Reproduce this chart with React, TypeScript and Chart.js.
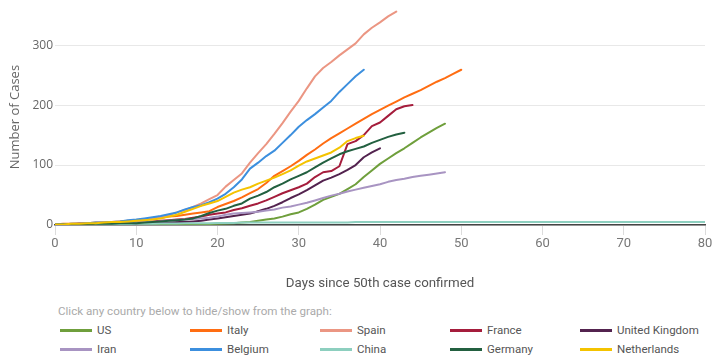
import React, { useEffect, useRef } from 'react';
import { Chart, registerables } from 'chart.js';

Chart.register(...registerables);

const NARROW = "Roboto, 'Open Sans', sans-serif";
const OPEN = "'Open Sans', sans-serif";

const X_TICKS = [0, 10, 20, 30, 40, 50, 60, 70, 80];
const Y_TICKS = [0, 100, 200, 300];
const X_TITLE = 'Days since 50th case confirmed';
const Y_TITLE = 'Number of Cases';
const LEGEND_HINT = 'Click any country below to hide/show from the graph:';

const COUNTRIES = ['US', 'Italy', 'Spain', 'France', 'United Kingdom', 'Iran', 'Belgium', 'China', 'Germany', 'Netherlands'];
const COLORS = ['#6f9f3c', '#ff6d12', '#eb9683', '#a51d3c', '#53234f', '#a894c2', '#3c8fde', '#8dcfbf', '#236040', '#f4c300'];

const US = [0.3, 0.3, 0.4, 0.4, 0.5, 0.5, 0.6, 0.6, 0.7, 0.7, 0.8, 0.8, 0.9, 1, 1, 1.1, 1.2, 1.3, 1.5, 1.7, 2, 2.3, 3, 4, 5, 7, 9, 11, 14, 18, 21, 27, 34, 42, 47, 52, 60, 68, 80, 91, 102, 111, 120, 128, 137, 146, 154, 162, 169];
const ITALY = [1, 2, 2, 3, 3, 4, 4, 5, 6, 7, 8, 9, 11, 12, 14, 15, 17, 19, 21, 23, 30, 35, 40, 46, 53, 60, 70, 82, 90, 98, 107, 117, 126, 136, 145, 153, 161, 169, 177, 185, 192, 199, 206, 213, 219, 225, 232, 239, 245, 252, 259];
const SPAIN = [1, 1, 2, 2, 3, 3, 4, 4, 5, 6, 8, 9, 11, 13, 16, 21, 25, 30, 36, 43, 50, 64, 75, 86, 104, 120, 135, 152, 170, 189, 207, 228, 248, 262, 272, 283, 293, 303, 318, 329, 338, 348, 356];
const FRANCE = [1, 1, 1, 2, 2, 2, 3, 3, 3, 4, 4, 5, 6, 7, 8, 9, 10, 12, 14, 17, 19, 21, 25, 28, 32, 36, 41, 47, 53, 58, 63, 69, 80, 88, 90, 98, 135, 140, 150, 165, 171, 182, 193, 198, 200];
const UK = [0.5, 0.5, 1, 1, 1, 1, 1, 2, 2, 2, 2, 3, 3, 4, 4, 5, 5, 6, 7, 9, 11, 13, 15, 17, 19, 23, 27, 32, 38, 45, 51, 58, 66, 74, 79, 85, 92, 100, 113, 121, 128];
const IRAN = [1, 1, 1, 2, 2, 2, 3, 3, 3, 4, 4, 5, 5, 6, 7, 8, 9, 10, 11, 12, 14, 17, 19, 20, 21, 22, 24, 26, 29, 31, 34, 37, 41, 45, 49, 52, 56, 59, 62, 65, 68, 72, 75, 77, 80, 82, 84, 86, 88];
const BELGIUM = [1, 1, 2, 2, 3, 4, 4, 5, 6, 8, 9, 11, 13, 15, 18, 21, 26, 30, 33, 38, 44, 52, 63, 76, 94, 104, 115, 124, 137, 150, 164, 175, 185, 196, 207, 222, 235, 248, 259];
const CHINA = [0.5, 0.5, 0.5, 1, 1, 1, 1, 1.5, 1.5, 1.5, 2, 2, 2, 2.5, 2.5, 2.5, 3, 3, 3, 3, 3.5, 3.5, 3.5, 4, 4, 4, 4, 4, 4, 4, 4, 4, 4, 4, 4, 4, 4, 5, 5, 5, 5, 5, 5, 5, 5, 5, 5, 5, 5, 5, 5, 5, 5, 5, 5, 5, 5, 5, 5, 5, 5, 5, 5, 5, 5, 5, 5, 5, 5, 5, 5, 5, 5, 5, 5, 5, 5, 5, 5, 5, 5];
const GERMANY = [0.5, 1, 1, 1, 1, 2, 2, 2, 3, 3, 3, 4, 5, 6, 7, 8, 9, 11, 15, 20, 24, 27, 32, 36, 44, 49, 55, 63, 69, 76, 82, 88, 96, 104, 111, 118, 123, 127, 131, 137, 142, 147, 151, 154];
const NETHERLANDS = [1, 1, 2, 2, 3, 3, 4, 5, 5, 6, 7, 8, 9, 11, 14, 17, 22, 27, 32, 36, 40, 47, 54, 59, 63, 69, 74, 79, 85, 91, 99, 106, 111, 116, 121, 129, 140, 145, 149];

const SERIES = [US, ITALY, SPAIN, FRANCE, UK, IRAN, BELGIUM, CHINA, GERMANY, NETHERLANDS];

export default function App() {
  const ref = useRef<HTMLCanvasElement>(null);

  useEffect(() => {
    const canvas = ref.current;
    if (!canvas) return;
    const chart = new Chart(canvas, {
      type: 'line',
      data: {
        datasets: COUNTRIES.map((name, i) => ({
          label: name,
          data: SERIES[i].map((v, d) => ({ x: d, y: v })),
          borderColor: COLORS[i],
          backgroundColor: COLORS[i],
          borderWidth: 2,
          pointRadius: 0,
          pointHoverRadius: 0,
          tension: 0,
          fill: false,
          borderJoinStyle: 'round',
          borderCapStyle: 'round',
          order: COUNTRIES.length - i,
        })),
      },
      options: {
        responsive: false,
        animation: false,
        events: [],
        layout: { padding: { left: 0, right: 16, top: 7, bottom: 0 } },
        plugins: { legend: { display: false }, tooltip: { enabled: false } },
        scales: {
          x: {
            type: 'linear',
            min: 0,
            max: 80,
            afterBuildTicks: (s: any) => { s.ticks = X_TICKS.map((v) => ({ value: v })); },
            afterFit: (s: any) => { s.height = 67; },
            grid: { drawOnChartArea: false, drawTicks: true, tickLength: 10, color: '#dcdcdc', tickColor: '#dcdcdc' },
            border: { display: true, color: '#444', width: 1.5 },
            ticks: { color: '#777', font: { family: NARROW, size: 13 }, padding: 1, maxRotation: 0 },
            title: { display: true, text: X_TITLE, color: '#555', font: { family: NARROW, size: 13.3 }, padding: { top: 0, bottom: 0 } },
          },
          y: {
            type: 'linear',
            min: 0,
            max: 360,
            afterBuildTicks: (s: any) => { s.ticks = Y_TICKS.map((v) => ({ value: v })); },
            afterFit: (s: any) => { s.width = 55; },
            grid: { color: '#e8e8e8', lineWidth: 1, drawTicks: false },
            border: { display: false },
            ticks: { color: '#666', font: { family: OPEN, size: 12 }, padding: 2 },
            title: { display: true, text: Y_TITLE, color: '#666', font: { family: OPEN, size: 13 }, padding: { top: 7, bottom: 0 } },
          },
        },
      } as any,
    });
    return () => chart.destroy();
  }, []);

  return (
    <div style={{ position: 'absolute', left: 0, top: 0, width: 721, height: 363, background: '#fff', overflow: 'hidden' }}>
      <canvas ref={ref} width={721} height={292} style={{ position: 'absolute', left: 0, top: 0, width: 721, height: 292 }} />
      <div style={{ position: 'absolute', left: 58, top: 303, font: `11.6px ${NARROW}`, color: '#aaa', whiteSpace: 'nowrap', lineHeight: '16px' }}>
        {LEGEND_HINT}
      </div>
      {COUNTRIES.map((name, i) => {
        const col = i % 5;
        const row = Math.floor(i / 5);
        return (
          <div key={name} style={{ position: 'absolute', left: 60 + col * 130, top: 321 + row * 19, height: 18, display: 'flex', alignItems: 'center', whiteSpace: 'nowrap' }}>
            <span style={{ display: 'inline-block', width: 32, height: 3, background: COLORS[i], marginRight: 5 }} />
            <span style={{ font: `11.5px ${NARROW}`, color: '#555', lineHeight: '18px' }}>{name}</span>
          </div>
        );
      })}
    </div>
  );
}
